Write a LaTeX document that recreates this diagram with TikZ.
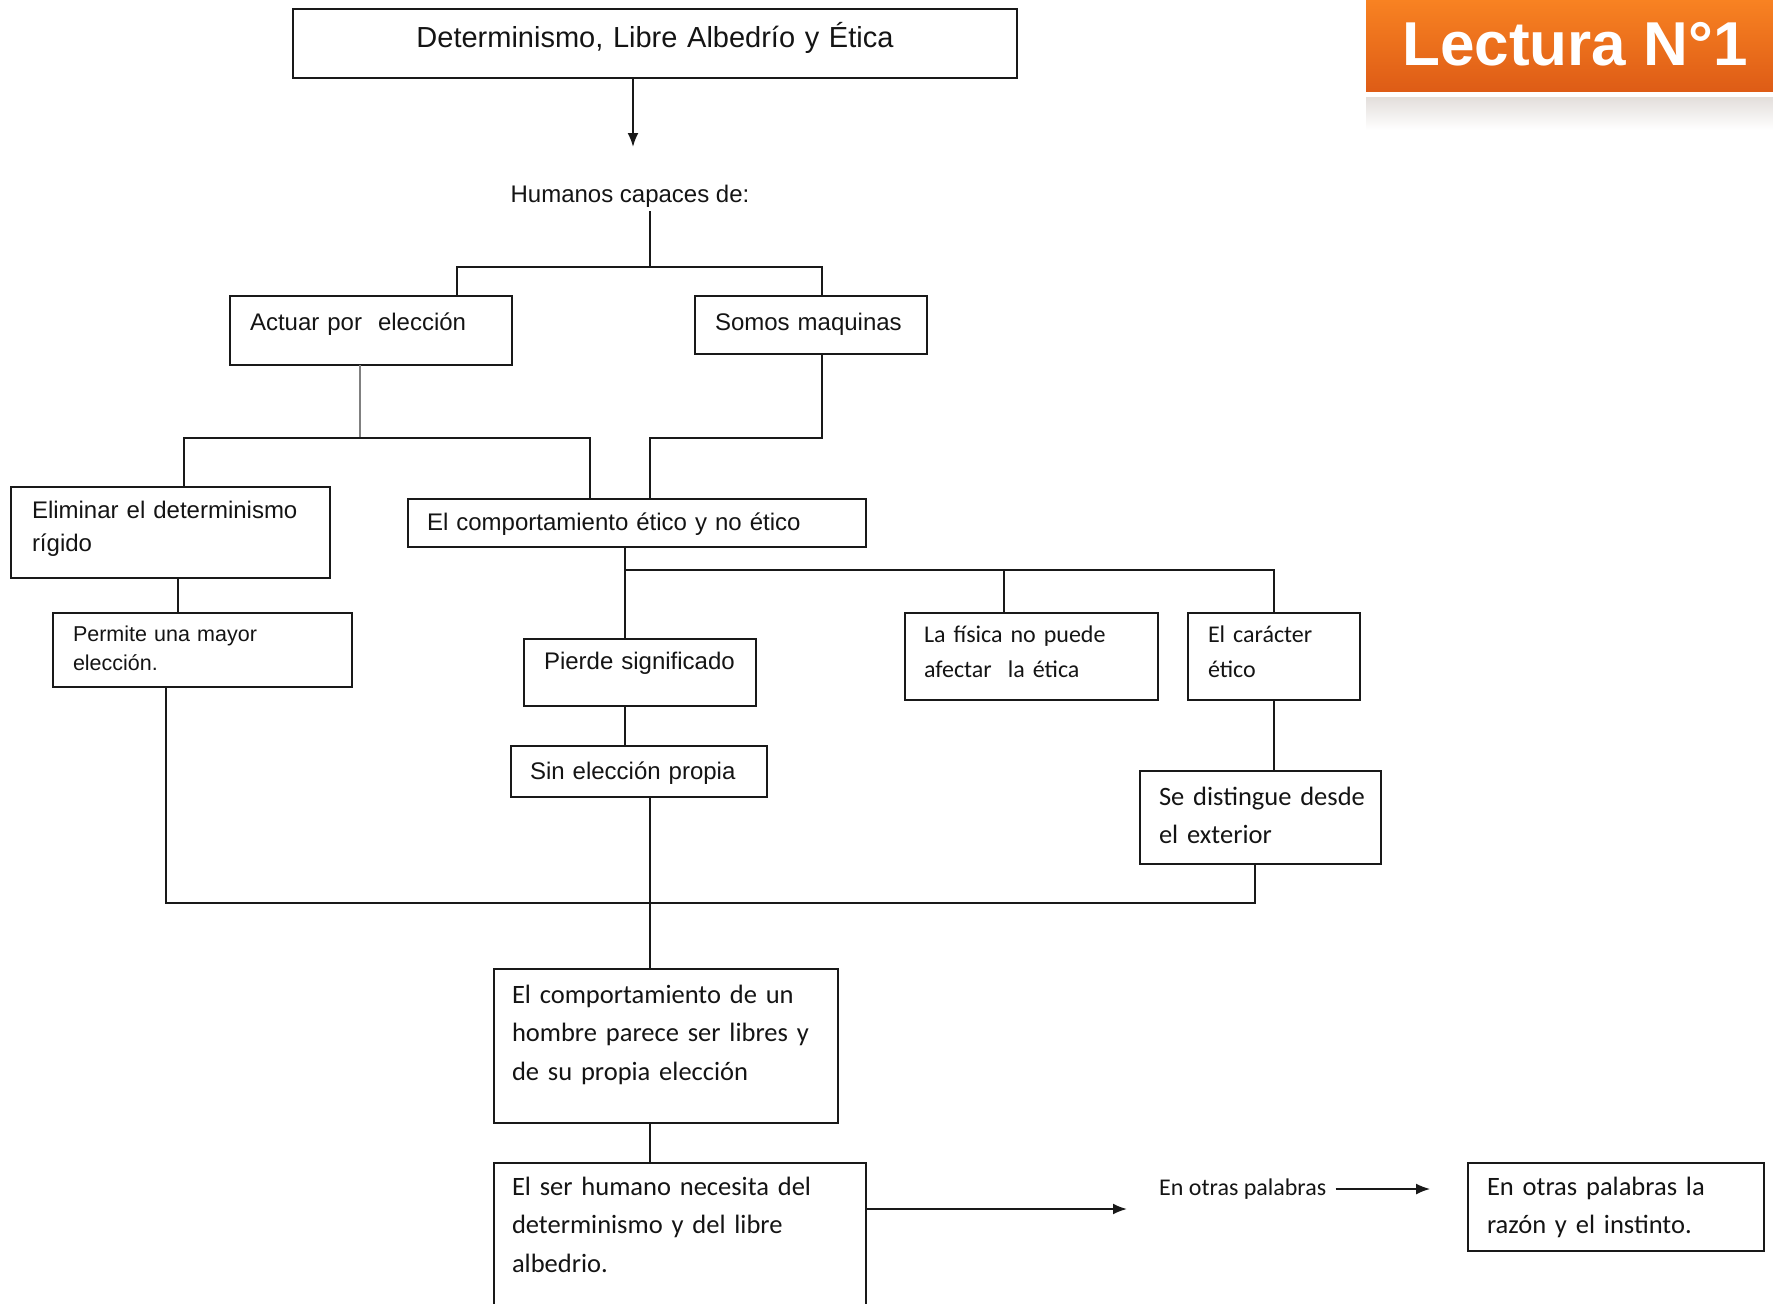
\documentclass[tikz,border=0pt]{standalone}
\usepackage{fontspec}
\setmainfont{Liberation Sans}
\newfontfamily\calibri{Carlito}
\usetikzlibrary{arrows.meta}
\definecolor{naranjaA}{RGB}{248,130,34}
\definecolor{naranjaB}{RGB}{222,92,22}
\definecolor{tinta}{RGB}{20,20,20}

\tikzset{
  caja/.style={draw=black!90, line width=2pt, anchor=north west, outer sep=0pt, inner ysep=0pt, align=left, text=tinta},
  linea/.style={draw=black!90, line width=2pt},
  flecha/.style={linea, -{Latex[length=14pt,width=11pt]}},
  arial/.style={font=\fontsize{24}{33}\selectfont},
  cali/.style={font=\calibri\fontsize{26.5}{38.5}\selectfont},
}

\begin{document}
\begin{tikzpicture}[x=1pt,y=-1pt]
			%%%%% START %%%%%
			\useasboundingbox (0,0) rectangle (1773,1304);
			
			% banner
			\shade[top color=naranjaA, bottom color=naranjaB] (1366,0) rectangle (1773,91);
			\shade[top color=naranjaB!15!gray!25, bottom color=white] (1366,97) rectangle (1773,130);
			\node[font=\fontsize{62}{62}\selectfont\bfseries, text=white, anchor=base] (lectura) at (1575,65) {Lectura N°1};
			
			\node[caja, font=\fontsize{29}{34}\selectfont, align=center, text width=684pt, inner xsep=20pt, text height=38pt, text depth=31pt] (titulo) at (293,9) {Determinismo, Libre Albedrío y Ética};
			\node[arial, text=tinta, inner sep=4pt] (humanos) at (630,196) {Humanos capaces de:};
			
			\node[caja, arial, text width=242pt, inner xsep=20pt, text height=34pt, text depth=35pt] (actuar) at (230,296) {Actuar por~ elección};
			\node[caja, arial, text width=192pt, inner xsep=20pt, text height=34pt, text depth=24pt] (somos) at (695,296) {\mbox{Somos maquinas}};
			
			\node[caja, arial, text width=277pt, inner xsep=21pt, text height=31pt, text depth=60pt] (eliminar) at (11,487) {\mbox{Eliminar el determinismo}\\rígido};
			\node[caja, arial, text width=420pt, inner xsep=19pt, text height=31pt, text depth=17pt] (etico) at (408,499) {El comportamiento ético y no ético};
			\node[caja, font=\fontsize{21.5}{29}\selectfont, text width=259pt, inner xsep=20pt, text height=28pt, text depth=46pt] (permite) at (53,613) {Permite una mayor\\elección.};
			
			\node[caja, arial, text width=192pt, inner xsep=20pt, text height=30pt, text depth=37pt] (pierde) at (524,639) {\mbox{Pierde significado}};
			\node[caja, arial, text width=218pt, inner xsep=19pt, text height=33pt, text depth=18pt] (sin) at (511,746) {\mbox{Sin elección propia}};
			
			\node[caja, font=\calibri\fontsize{24}{35}\selectfont, text width=215pt, inner xsep=19pt, text height=29pt, text depth=58pt] (fisica) at (905,613) {\mbox{La física no puede}\\afectar~ la ética};
			\node[caja, font=\calibri\fontsize{24}{35}\selectfont, text width=132pt, inner xsep=20pt, text height=29pt, text depth=58pt] (caracter) at (1188,613) {El carácter\\ético};
			\node[caja, cali, text width=203pt, inner xsep=19pt, text height=34pt, text depth=59pt] (distingue) at (1140,771) {\mbox{Se distingue desde}\\el exterior};
			
			\node[caja, cali, text width=308pt, inner xsep=18pt, text height=34pt, text depth=120pt] (hombre) at (494,969) {El comportamiento de un\\hombre parece ser libres y\\de su propia elección};
			\node[caja, cali, text width=336pt, inner xsep=18pt, text height=32pt, text depth=125pt] (necesita) at (494,1163) {El ser humano necesita del\\determinismo y del libre\\albedrio.};
			
			\node[font=\calibri\fontsize{24}{30}\selectfont, text=tinta, anchor=west, inner sep=0pt] (palabras) at (1159,1189) {En otras palabras};
			\node[caja, cali, text width=258pt, inner xsep=19pt, text height=32pt, text depth=56pt] (razon) at (1468,1163) {\mbox{En otras palabras la}\\razón y el instinto.};
			
			% connectors
			\coordinate (f1) at (633,147);
			\draw[flecha] (f1 |- titulo.south) -- (f1);
			
			\coordinate (h1) at (650,267);
			\coordinate (b1) at (457,267);
			\coordinate (b2) at (822,267);
			\draw[linea] (h1 |- humanos.south) -- (h1);
			\draw[linea] (b1 |- actuar.north) -- (b1) -- (b2) -- (b2 |- somos.north);
			
			\coordinate (b3) at (360,438);
			\coordinate (b4) at (184,438);
			\coordinate (b5) at (590,438);
			\draw[line width=1.2pt, draw=gray] (b3 |- actuar.south) -- (b3);
			\draw[linea] (b4 |- eliminar.north) -- (b4) -- (b5) -- (b5 |- etico.north);
			\coordinate (b6) at (822,438);
			\coordinate (b7) at (650,438);
			\draw[linea] (b6 |- somos.south) -- (b6) -- (b7) -- (b7 |- etico.north);
			
			\coordinate (e1) at (178,600);
			\draw[linea] (e1 |- eliminar.south) -- (e1 |- permite.north);
			\coordinate (b9) at (166,903);
			\coordinate (b10) at (1255,903);
			\draw[linea] (b9 |- permite.south) -- (b9) -- (b10) -- (b10 |- distingue.south);
			
			\coordinate (b11) at (625,570);
			\coordinate (b12) at (1274,570);
			\coordinate (b13) at (1004,570);
			\draw[linea] (b11 |- etico.south) -- (b11 |- pierde.north);
			\draw[linea] (b11) -- (b12) -- (b12 |- caracter.north);
			\draw[linea] (b13) -- (b13 |- fisica.north);
			\draw[linea] (b11 |- pierde.south) -- (b11 |- sin.north);
			\draw[linea] (b12 |- caracter.south) -- (b12 |- distingue.north);
			
			\coordinate (b14) at (650,903);
			\draw[linea] (b14 |- sin.south) -- (b14 |- hombre.north);
			\draw[linea] (b14 |- hombre.south) -- (b14 |- necesita.north);
			
			\coordinate (f2) at (1127,1209);
			\draw[flecha] (f2 -| necesita.east) -- (f2);
			\coordinate (f3) at (1430,1189);
			\draw[flecha, line width=1.5pt] ([xshift=9pt]palabras.east) -- (f3);
			
			%%%%% END %%%%%
\end{tikzpicture}
\end{document}
